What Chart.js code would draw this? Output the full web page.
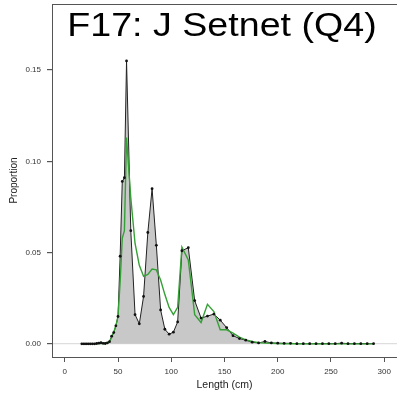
<!DOCTYPE html>
<html>
<head>
<meta charset="utf-8">
<script src="https://cdn.jsdelivr.net/npm/chart.js@4.4.1/dist/chart.umd.min.js"></script>
<style>
    html, body { margin: 0; padding: 0; background: #ffffff; overflow: hidden; }
    #wrap { width: 397px; height: 401px; }
    canvas { display: block; }
</style>
</head>
<body>
<div id="wrap"><canvas id="lengthChart" width="397" height="401"></canvas></div>
<script>
// Length bins (cm): 2 cm up to 58, 4 cm up to 110, 6 cm after that
const lengths = [
    16, 18, 20, 22, 24, 26, 28, 30, 32, 34, 36, 38, 40, 42, 44, 46, 48, 50, 52, 54, 56, 58,
    62, 66, 70, 74, 78, 82, 86, 90, 94, 98, 102, 106, 110,
    116, 122, 128, 134, 140, 146, 152, 158, 164, 170, 176, 182, 188, 194, 200,
    206, 212, 218, 224, 230, 236, 242, 248, 254, 260, 266, 272, 278, 284, 290
];

// Observed proportions (grey area, black line with points)
const observed = [
    0, 0, 0, 0, 0, 0, 0, 0.0002, 0.0004, 0.0006, 0.0003, 0.0002, 0.0005, 0.0012, 0.0042, 0.0062, 0.0099, 0.0150, 0.0480, 0.0890, 0.0910, 0.1550,
    0.0620, 0.0160, 0.0110, 0.0260, 0.0610, 0.0850, 0.0540, 0.0186, 0.0080, 0.0053, 0.0064, 0.0120, 0.0510,
    0.0527, 0.0237, 0.0141, 0.0152, 0.0163, 0.0130, 0.0089, 0.0045, 0.0029, 0.0020, 0.0009, 0.0005, 0.0013, 0.0005, 0.0004,
    0.0003, 0.0003, 0.0001, 0.0001, 0.0001, 0.0001, 0.0001, 0.0001, 0.0001, 0.0004, 0.0001, 0.0001, 0.0001, 0.0001, 0.0001
];

// Expected proportions (green line)
const expected = [
    0, 0, 0, 0, 0, 0, 0, 0.0001, 0.0002, 0.0002, 0.0002, 0.0002, 0.0004, 0.0012, 0.0035, 0.0065, 0.0100, 0.0150, 0.0340, 0.0580, 0.0620, 0.1130,
    0.0800, 0.0550, 0.0430, 0.0370, 0.0380, 0.0410, 0.0405, 0.0350, 0.0270, 0.0200, 0.0160, 0.0200, 0.0530,
    0.0460, 0.0160, 0.0117, 0.0217, 0.0177, 0.0077, 0.0077, 0.0059, 0.0037, 0.0022, 0.0013, 0.0007, 0.0004, 0.0003, 0.0002,
    0.0001, 0.0001, 0.0001, 0.0001, 0.0001, 0.0001, 0, 0, 0, 0, 0, 0, 0, 0, 0
];

const xTicks = [0, 50, 100, 150, 200, 250, 300];
const yTicks = [0, 0.05, 0.10, 0.15];

const FONT = '"Liberation Sans", Arial, sans-serif';
const toPoints = ys => lengths.map((x, i) => ({ x: x, y: ys[i] }));

// Frame round the plot area and the big panel title
const framePlugin = {
    id: 'frame',
    afterDatasetsDraw(chart) {
        const { ctx, chartArea: a } = chart;
        ctx.save();
        ctx.strokeStyle = '#555555';
        ctx.lineWidth = 1;
        ctx.strokeRect(a.left + 0.5, a.top + 0.5, a.right - a.left, a.bottom - a.top);
        ctx.restore();
    },
    afterDraw(chart) {
        const ctx = chart.ctx;
        ctx.save();
        ctx.fillStyle = '#000000';
        ctx.font = '33px ' + FONT;
        ctx.textAlign = 'center';
        ctx.textBaseline = 'alphabetic';
        ctx.translate(222, 36);
        ctx.scale(1.14, 1);
        ctx.fillText('F17: J Setnet (Q4)', 0, 0);
        ctx.restore();
    }
};

// no extra room for overhanging tick labels, the plot area is set by hand
const noOverhang = s => {
    s.paddingLeft = 0;
    s.paddingRight = 0;
    s.paddingTop = 0;
    s.paddingBottom = 0;
};

const ctx = document.getElementById('lengthChart').getContext('2d');
const lengthChart = new Chart(ctx, {
    type: 'line',
    data: {
        datasets: [
            {
                label: 'Observed area',
                data: toPoints(observed),
                borderColor: '#222222',
                borderWidth: 1,
                backgroundColor: '#c8c8c8',
                fill: 'origin',
                pointRadius: 0,
                tension: 0,
                order: 3
            },
            {
                label: 'Expected',
                data: toPoints(expected),
                borderColor: '#35a035',
                borderWidth: 1.4,
                fill: false,
                pointRadius: 0,
                tension: 0,
                order: 2
            },
            {
                label: 'Observed',
                data: toPoints(observed),
                showLine: false,
                pointRadius: 1.4,
                pointBackgroundColor: '#111111',
                pointBorderWidth: 0,
                order: 1
            }
        ]
    },
    options: {
        responsive: false,
        animation: false,
        // right edge of the box sits on the canvas edge
        layout: { autoPadding: false, padding: { top: 4, right: 0, bottom: 0, left: 0 } },
        plugins: {
            legend: { display: false },
            tooltip: { enabled: false },
            title: { display: false }
        },
        scales: {
            x: {
                type: 'linear',
                min: -12,
                max: 312,
                afterBuildTicks: s => { s.ticks = xTicks.map(v => ({ value: v })); },
                afterFit: s => { s.height = 44; noOverhang(s); },
                border: { display: false },
                grid: {
                    drawOnChartArea: false,
                    tickLength: 5,
                    tickColor: '#555555'
                },
                ticks: {
                    color: '#333333',
                    font: { family: FONT, size: 8 },
                    padding: 5,
                    maxRotation: 0,
                    autoSkip: false
                },
                title: {
                    display: true,
                    text: 'Length (cm)',
                    color: '#222222',
                    font: { family: FONT, size: 10.5 },
                    padding: { top: 0, bottom: 10 }
                }
            },
            y: {
                type: 'linear',
                min: -0.0072,
                max: 0.1862,
                afterBuildTicks: s => { s.ticks = yTicks.map(v => ({ value: v })); },
                afterFit: s => { s.width = 52; noOverhang(s); },
                border: { display: false },
                grid: {
                    color: c => (c.tick && c.tick.value === 0) ? '#dedede' : 'rgba(0,0,0,0)',
                    lineWidth: 1.2,
                    tickLength: 5,
                    tickColor: '#555555'
                },
                ticks: {
                    color: '#333333',
                    font: { family: FONT, size: 8 },
                    padding: 6,
                    callback: v => v.toFixed(2)
                },
                title: {
                    display: true,
                    text: 'Proportion',
                    color: '#222222',
                    font: { family: FONT, size: 10 },
                    padding: { top: 8, bottom: 0 }
                }
            }
        }
    },
    plugins: [framePlugin]
});
</script>
</body>
</html>
